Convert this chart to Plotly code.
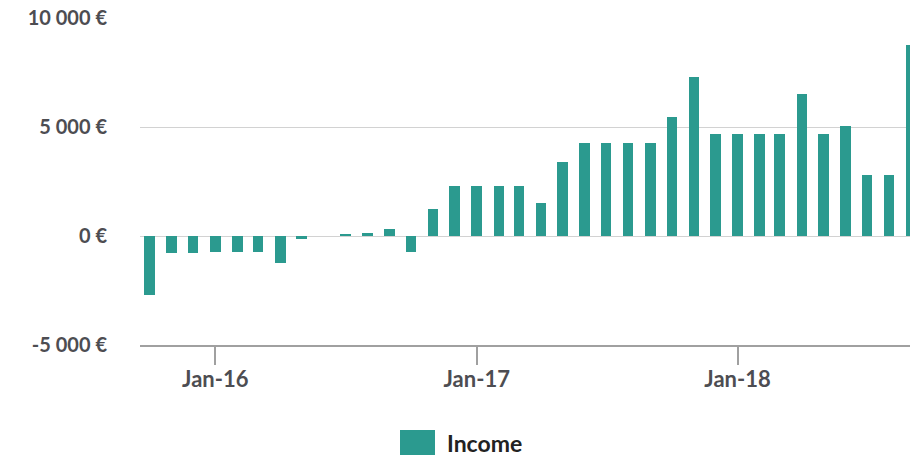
import plotly.graph_objects as go

# Monthly net income, Oct 2015 - Sep 2018
months = [
    "2015-10-01", "2015-11-01", "2015-12-01",
    "2016-01-01", "2016-02-01", "2016-03-01", "2016-04-01", "2016-05-01", "2016-06-01",
    "2016-07-01", "2016-08-01", "2016-09-01", "2016-10-01", "2016-11-01", "2016-12-01",
    "2017-01-01", "2017-02-01", "2017-03-01", "2017-04-01", "2017-05-01", "2017-06-01",
    "2017-07-01", "2017-08-01", "2017-09-01", "2017-10-01", "2017-11-01", "2017-12-01",
    "2018-01-01", "2018-02-01", "2018-03-01", "2018-04-01", "2018-05-01", "2018-06-01",
    "2018-07-01", "2018-08-01", "2018-09-01",
]
income = [
    -2700, -800, -800,
    -720, -720, -720, -1230, -130, 0,
    60, 150, 340, -720, 1220, 2280,
    2280, 2280, 2280, 1520, 3390, 4280,
    4280, 4280, 4280, 5450, 7300, 4660,
    4660, 4660, 4660, 6500, 4660, 5040,
    2790, 2790, 8780,
]

y_ticks = [-5000, 0, 5000, 10000]
y_tick_labels = ["-5 000 €", "0 €", "5 000 €", "10 000 €"]

BAR_COLOR = "#2b9a8f"
LABEL_COLOR = "#4d4d52"
FONT = "Lato"

# plot area geometry (pixels)
W, H = 910, 457
L, R, T, B = 140, 0, 18, 112
pw, ph = W - L - R, H - T - B


def px_x(x):
    return (x - L) / pw


def px_y(y):
    return (H - B - y) / ph


fig = go.Figure()
fig.add_trace(go.Bar(
    x=months,
    y=income,
    name="Income",
    marker=dict(color=BAR_COLOR, line=dict(width=0)),
    width=14.7 * 24 * 3600 * 1000,
    showlegend=False,
))

# legend drawn as swatch + label
fig.add_shape(
    type="rect", xref="paper", yref="paper",
    x0=px_x(400), x1=px_x(435), y0=px_y(455), y1=px_y(430),
    fillcolor=BAR_COLOR, line=dict(width=0),
)
fig.add_annotation(
    xref="paper", yref="paper", x=px_x(445), y=px_y(443),
    xanchor="left", yanchor="middle", showarrow=False,
    text="Income",
    font=dict(family=FONT, size=23, color="#222222", weight=700),
)

fig.update_layout(
    width=W, height=H,
    margin=dict(l=L, r=R, t=T, b=B, pad=0),
    paper_bgcolor="white", plot_bgcolor="white",
    font=dict(family=FONT, size=20, color=LABEL_COLOR, weight=700),
    bargap=0,
)
fig.update_xaxes(
    type="date",
    range=["2015-09-17 16:00", "2018-08-30 10:00"],
    tick0="2016-01-01", dtick="M12", tickformat="%b-%y",
    showgrid=False, zeroline=False,
    showline=True, linecolor="#a0a0a0", linewidth=1.5,
    ticks="outside", ticklen=18, tickcolor="#a0a0a0", tickwidth=1.5,
    ticklabelstandoff=-4,
    tickfont=dict(family=FONT, size=22, color=LABEL_COLOR, weight=700),
)
fig.update_yaxes(
    range=[-5000, 10000],
    tickvals=y_ticks, ticktext=y_tick_labels,
    showgrid=True, gridcolor="#d2d2d2", gridwidth=1,
    zeroline=False, showline=False,
    ticks="", ticklabelstandoff=32,
    tickfont=dict(family=FONT, size=20, color=LABEL_COLOR, weight=700),
)

fig.write_html("out.html")
